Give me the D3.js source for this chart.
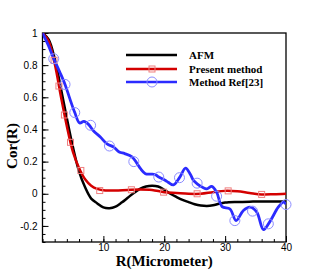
<!DOCTYPE html>
<html>
<head>
<meta charset="utf-8">
<script src="https://cdn.jsdelivr.net/npm/d3@7"></script>
<style>
  body { margin: 0; background: #fff; }
  .tick text { font-family: "Liberation Sans", Arial, sans-serif; font-size: 10px; fill: #000; }
  .aTitle { font-family: "Liberation Serif", "Times New Roman", serif; font-weight: bold; font-size: 15px; }
  .legText { font-family: "Liberation Serif", "Times New Roman", serif; font-weight: bold; font-size: 11px; }
</style>
</head>
<body>
<div id="chart"></div>
<script>
// Data
var afmX = [0, 1, 2, 3, 4, 5, 6, 7, 8, 9, 10, 11, 12, 13, 14, 15, 16, 17, 18, 19, 20, 21, 22, 23, 24, 25, 26, 27, 28, 29, 30, 32, 34, 36, 38, 40];
var afmY = [1, 0.96, 0.84, 0.66, 0.47, 0.29, 0.14, 0.04, -0.03, -0.06, -0.085, -0.09, -0.08, -0.055, -0.025, 0.005, 0.03, 0.045, 0.05, 0.045, 0.025, 0.0, -0.02, -0.038, -0.052, -0.065, -0.073, -0.076, -0.072, -0.062, -0.055, -0.051, -0.049, -0.048, -0.048, -0.048];

var presX = [0, 1, 2, 3, 4, 5, 6, 7, 8, 9, 10, 11, 12, 14, 16, 18, 20, 22, 24, 26, 28, 30, 32, 34, 36, 38, 40];
var presY = [1, 0.95, 0.81, 0.61, 0.42, 0.26, 0.16, 0.09, 0.05, 0.03, 0.022, 0.02, 0.02, 0.024, 0.027, 0.024, 0.01, 0.005, 0.0, 0.0, 0.01, 0.018, 0.015, 0.005, -0.004, -0.003, 0.0];
var presMarkX = [1.9, 2.7, 3.6, 4.6, 6.3, 9.4, 14.6, 19.9, 25.4, 30.5, 36];
var presMarkY = [0.83, 0.67, 0.49, 0.32, 0.145, 0.02, 0.025, 0.01, 0.0, 0.018, -0.004];

var refX = [0, 1, 1.85, 2.8, 3.7, 4.5, 5.3, 6.1, 6.8, 7.6, 8.4, 9.5, 10.6, 11.7, 12.6, 13.5, 14.7, 15.5, 16.1, 16.9, 17.7, 18.5, 19.1, 20.2, 20.7, 21.5, 22.5, 23.5, 24.3, 24.8, 25.4, 26.3, 27, 27.8, 28.6, 29.5, 30.8, 31.8, 33, 34.1, 35.2, 36.3, 37.4, 38.7, 39.6, 40];
var refY = [1, 0.92, 0.84, 0.76, 0.68, 0.59, 0.505, 0.44, 0.45, 0.43, 0.39, 0.353, 0.31, 0.29, 0.26, 0.25, 0.23, 0.19, 0.156, 0.125, 0.122, 0.12, 0.104, 0.083, 0.07, 0.055, 0.1, 0.16, 0.12, 0.083, 0.062, 0.04, 0.031, 0.046, 0.01, -0.08, -0.095, -0.167, -0.104, -0.083, -0.114, -0.223, -0.17, -0.085, -0.052, -0.065];
var refMarkX = [1.85, 3.7, 5.3, 7.9, 11.0, 15.0, 19.1, 22.5, 25.4, 28.6, 31.6, 34.5, 37.1, 40];
var refMarkY = [0.84, 0.68, 0.505, 0.426, 0.297, 0.2, 0.104, 0.1, 0.066, -0.015, -0.167, -0.108, -0.187, -0.067];

var xTicks = [10, 20, 30, 40];
var yTicks = [1, 0.8, 0.6, 0.4, 0.2, 0, -0.2];
var legendNames = ["AFM", "Present method", "Method Ref[23]"];

// Set up the chart
var svgWidth = 327;
var svgHeight = 273;
var margin = { top: 33, right: 41, bottom: 31, left: 42.5 };
var width = svgWidth - margin.left - margin.right;
var height = svgHeight - margin.top - margin.bottom;

var svg = d3.select("#chart")
    .append("svg")
    .attr("width", svgWidth)
    .attr("height", svgHeight);

var chartGroup = svg.append("g")
    .attr("transform", `translate(${margin.left}, ${margin.top})`);

var xScale = d3.scaleLinear().domain([0, 40]).range([0, width]);
var yScale = d3.scaleLinear().domain([-0.3, 1]).range([height, 0]);

// minor ticks
chartGroup.append("g")
    .attr("transform", `translate(0, ${height})`)
    .call(d3.axisBottom(xScale).tickValues(d3.range(0, 41, 2)).tickSize(-3).tickFormat(""))
    .call(g => g.select(".domain").remove());
chartGroup.append("g")
    .call(d3.axisLeft(yScale).tickValues(d3.range(-6, 21).map(d => d * 0.05)).tickSize(-3).tickFormat(""))
    .call(g => g.select(".domain").remove());

// major ticks
chartGroup.append("g")
    .attr("transform", `translate(0, ${height})`)
    .call(d3.axisBottom(xScale).tickValues(xTicks).tickSize(-6).tickPadding(2).tickFormat(d => d))
    .call(g => g.select(".domain").remove());
chartGroup.append("g")
    .call(d3.axisLeft(yScale).tickValues(yTicks).tickSize(-6).tickPadding(5).tickFormat(d => String(+d.toFixed(1))))
    .call(g => g.select(".domain").remove());

// frame
chartGroup.append("rect")
    .attr("width", width)
    .attr("height", height)
    .attr("fill", "none")
    .attr("stroke", "#000")
    .attr("stroke-width", 1.3);

var line = d3.line()
    .x(d => xScale(d[0]))
    .y(d => yScale(d[1]))
    .curve(d3.curveCatmullRom);

var clip = chartGroup.append("clipPath").attr("id", "clip")
    .append("rect").attr("width", width).attr("height", height);

var plot = chartGroup.append("g").attr("clip-path", "url(#clip)");

plot.append("path")
    .datum(afmX.map((x, i) => [x, afmY[i]]))
    .attr("d", line)
    .attr("fill", "none")
    .attr("stroke", "#000")
    .attr("stroke-width", 2.5);

plot.append("path")
    .datum(presX.map((x, i) => [x, presY[i]]))
    .attr("d", line)
    .attr("fill", "none")
    .attr("stroke", "#d40000")
    .attr("stroke-width", 2.5);

plot.append("path")
    .datum(refX.map((x, i) => [x, refY[i]]))
    .attr("d", line)
    .attr("fill", "none")
    .attr("stroke", "#2b2bff")
    .attr("stroke-width", 2.8);

// markers
chartGroup.selectAll(".sq")
    .data(presMarkX.map((x, i) => [x, presMarkY[i]]))
    .enter()
    .append("rect")
    .attr("x", d => xScale(d[0]) - 3)
    .attr("y", d => yScale(d[1]) - 3)
    .attr("width", 6)
    .attr("height", 6)
    .attr("fill", "none")
    .attr("stroke", "#f08080")
    .attr("stroke-width", 1);

chartGroup.selectAll(".circ")
    .data(refMarkX.map((x, i) => [x, refMarkY[i]]))
    .enter()
    .append("circle")
    .attr("cx", d => xScale(d[0]))
    .attr("cy", d => yScale(d[1]))
    .attr("r", 5)
    .attr("fill", "none")
    .attr("stroke", "#8c8cff")
    .attr("stroke-width", 1);

// legend
var legColors = ["#000", "#d40000", "#2b2bff"];
var legY = [55, 69, 82];
legendNames.forEach(function(name, i) {
    svg.append("line")
        .attr("x1", 126).attr("x2", 177)
        .attr("y1", legY[i]).attr("y2", legY[i])
        .attr("stroke", legColors[i])
        .attr("stroke-width", 2.5);
    svg.append("text")
        .attr("class", "legText")
        .attr("x", 189)
        .attr("y", legY[i] + 4)
        .text(name);
});
svg.append("rect")
    .attr("x", 149).attr("y", legY[1] - 3)
    .attr("width", 6).attr("height", 6)
    .attr("fill", "none").attr("stroke", "#f08080");
svg.append("circle")
    .attr("cx", 152).attr("cy", legY[2])
    .attr("r", 5)
    .attr("fill", "none").attr("stroke", "#8c8cff");

// axis titles
svg.append("text")
    .attr("class", "aTitle")
    .attr("text-anchor", "middle")
    .attr("x", margin.left + width / 2)
    .attr("y", 266)
    .text("R(Micrometer)");

svg.append("text")
    .attr("class", "aTitle")
    .attr("text-anchor", "middle")
    .attr("transform", "translate(17, 146) rotate(-90)")
    .text("Cor(R)");
</script>
</body>
</html>
